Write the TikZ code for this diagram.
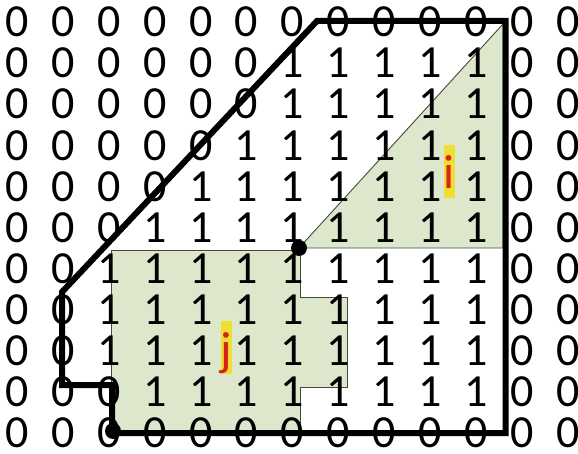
\documentclass[tikz,border=0pt]{standalone}
\usepackage{fontspec}
\setmainfont{Carlito}
\definecolor{regiongreen}{RGB}{221,231,204}
\definecolor{edgegray}{RGB}{70,72,60}
\definecolor{hlyellow}{RGB}{240,222,50}
\definecolor{tagred}{RGB}{214,34,30}
\begin{document}
\begin{tikzpicture}[x=1pt,y=-1pt,
  cell/.style={font=\fontsize{46}{46}\selectfont, inner sep=0pt, anchor=center},
  region/.style={fill=regiongreen, draw=edgegray, line width=0.9pt},
  border/.style={line width=6pt, line join=miter, line cap=rect},
  corner/.style={circle, fill=black, inner sep=0pt, minimum size=16pt},
  tag/.style={fill=hlyellow, text=tagred, inner sep=0pt, minimum width=10pt,
              font=\fontsize{48}{48}\selectfont, text height=44pt, text depth=9pt}]
\useasboundingbox (0,0) rectangle (578,454);

% shaded sub-regions
\coordinate (p) at (299,248);
\filldraw[region] (p) -- (503,24) -- (503,248) -- cycle;
\filldraw[region] (111,250) -- (300,250) -- (300,297) -- (347,297) -- (347,387)
  -- (300,387) -- (300,433) -- (111,433) -- cycle;

% binary grid
\foreach \row [count=\r from 0] in {
  {0,0,0,0,0,0,0,0,0,0,0,0,0},
  {0,0,0,0,0,0,1,1,1,1,1,0,0},
  {0,0,0,0,0,0,1,1,1,1,1,0,0},
  {0,0,0,0,0,1,1,1,1,1,1,0,0},
  {0,0,0,0,1,1,1,1,1,1,1,0,0},
  {0,0,0,1,1,1,1,1,1,1,1,0,0},
  {0,0,1,1,1,1,1,1,1,1,1,0,0},
  {0,0,1,1,1,1,1,1,1,1,1,0,0},
  {0,0,1,1,1,1,1,1,1,1,1,0,0},
  {0,0,0,1,1,1,1,1,1,1,1,0,0},
  {0,0,0,0,0,0,0,0,0,0,0,0,0}}
{
  \foreach \v [count=\c from 0] in \row {
    \node[cell] (d-\r-\c) at ({17+45.92*\c},{22+41.1*\r}) {\v};
  }
}

% region labels
\node[tag] (li) at (449.5,171.5) {i};
\node[tag] (lj) at (226.5,347.5) {j};

% outer boundary
\coordinate (b1) at (62,292);
\coordinate (b2) at (317,21);
\coordinate (b3) at (505.5,21);
\coordinate (b4) at (505.5,433);
\coordinate (b5) at (112,433);
\coordinate (b6) at (112,385);
\coordinate (b7) at (62,385);
\draw[border] (b1) -- (b2) -- (b3) -- (b4) -- (b5) -- (b6) -- (b7) -- cycle;

% marked points
\node[corner] (pt) at (p) {};
\node[corner] (q) at (113,431) {};
\end{tikzpicture}
\end{document}
